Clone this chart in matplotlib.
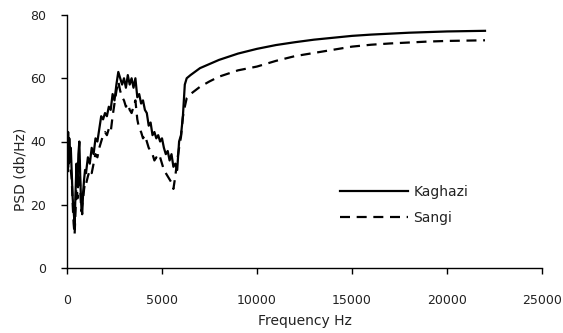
import matplotlib
matplotlib.use("Agg")
import matplotlib.pyplot as plt

freq = [0, 30, 60, 90, 120, 150, 200, 250, 300, 350,
        400, 450, 500, 550, 600, 650, 700, 750, 800, 850,
        900, 950, 1000, 1100, 1200, 1300, 1400, 1500, 1600, 1700,
        1800, 1900, 2000, 2100, 2200, 2300, 2400, 2500, 2600, 2700,
        2800, 2900, 3000, 3100, 3200, 3300, 3400, 3500, 3600, 3700,
        3800, 3900, 4000, 4100, 4200, 4300, 4400, 4500, 4600, 4700,
        4800, 4900, 5000, 5100, 5200, 5300, 5400, 5500, 5600, 5700,
        5800, 5900, 6000, 6100, 6200, 6300, 6500, 7000, 7500, 8000,
        9000, 10000, 11000, 12000, 13000, 14000, 15000, 16000, 17000, 18000,
        19000, 20000, 21000, 22000]

kaghazi = [42, 35, 43, 33, 41, 36, 38, 30, 22, 18,
           14, 24, 33, 26, 36, 40, 28, 20, 17, 24,
           28, 31, 30, 35, 33, 38, 36, 41, 40, 44,
           48, 47, 49, 48, 51, 50, 55, 53, 58, 62,
           60, 58, 60, 57, 61, 58, 60, 57, 60, 54,
           55, 52, 53, 50, 49, 45, 46, 42, 43, 41,
           42, 40, 41, 38, 36, 37, 34, 36, 32, 33,
           31, 40, 42, 48, 58, 60, 61, 63.2, 64.5, 65.8,
           67.8, 69.3, 70.5, 71.4, 72.2, 72.8, 73.4, 73.8, 74.1, 74.4,
           74.6, 74.8, 74.9, 75.0]

sangi = [32, 38, 30, 40, 33, 35, 31, 28, 20, 14,
         10.5, 18, 28, 22, 30, 35, 25, 18, 20, 22,
         25, 27, 26.5, 29, 31, 30, 33, 36, 35, 38,
         40, 42, 43, 42, 44, 43, 48, 52, 56, 59,
         56, 54, 53, 51, 52, 50, 49, 51, 53, 47,
         44, 43, 41, 42, 40, 38, 37, 36, 34, 35,
         34, 35, 33, 31, 30, 29, 28, 27, 25, 29,
         34, 38, 41.5, 47.8, 51, 53.7, 55, 57.3, 59, 60.5,
         62.5, 63.7, 65.5, 67, 68, 69, 70, 70.6, 71, 71.3,
         71.6, 71.8, 71.9, 72.0]

series_names = ["Kaghazi", "Sangi"]
x_ticks = [0, 5000, 10000, 15000, 20000, 25000]
y_ticks = [0, 20, 40, 60, 80]

fig = plt.figure(figsize=(5.63, 3.33), dpi=100)
ax = fig.add_axes([67/563, 65/333, 475/563, 253/333])

ax.plot(freq, kaghazi, color="black", lw=1.6, label=series_names[0])
ax.plot(freq, sangi, color="black", lw=1.6, ls=(0, (4.5, 3)), label=series_names[1])

ax.set_xlim(0, 25000)
ax.set_ylim(0, 80)
ax.set_xticks(x_ticks)
ax.set_yticks(y_ticks)
for s in ["top", "right"]:
    ax.spines[s].set_visible(False)
for s in ["left", "bottom"]:
    ax.spines[s].set_linewidth(1.0)
    ax.spines[s].set_color("black")

tc = "#222222"
ax.tick_params(axis="x", direction="out", length=4, width=1, pad=15, labelsize=9, labelcolor=tc)
ax.tick_params(axis="y", direction="out", length=4, width=1, pad=11, labelsize=9, labelcolor=tc)

ax.set_xlabel("Frequency Hz", fontsize=10, color=tc)
ax.xaxis.set_label_coords(0.5, -0.18)
ax.set_ylabel("PSD (db/Hz)", fontsize=10, color=tc)
ax.yaxis.set_label_coords(-0.083, 0.39)

leg = ax.legend(loc="center left", bbox_to_anchor=(0.548, 0.25), frameon=False,
                fontsize=10, handlelength=4.9, handletextpad=0.4, labelspacing=0.85,
                labelcolor=tc)

fig.savefig("out.png", dpi=100)
